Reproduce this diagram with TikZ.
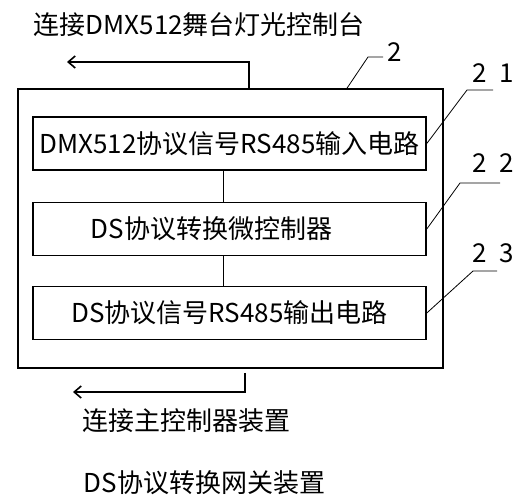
\documentclass[tikz,border=0pt]{standalone}
\usepackage{fontspec}
\setmainfont{Noto Sans CJK SC}
\usetikzlibrary{arrows.meta}

\begin{document}
\begin{tikzpicture}[x=1pt,y=-1pt,line width=1.6pt,
>={Straight Barb[length=7pt,width=12pt]},
gatebox/.style={draw,rectangle,inner sep=0pt,minimum width=425pt,minimum height=279pt},
blockbox/.style={draw,rectangle,inner sep=0pt,minimum width=393pt,minimum height=53pt},
leader/.style={line width=0.8pt},
lbl/.style={inner sep=0pt,font=\fontsize{26}{28}\selectfont}]

\useasboundingbox (0,0) rectangle (527,500);

\draw (230.5,228.5) node[gatebox] (G) {};
\draw (229.5,143.5) node[blockbox,lbl] (B1) {DMX512协议信号RS485输入电路};
\draw (229.5,229) node[blockbox,lbl] (B2) {DS协议转换微控制器\hspace*{36pt}};
\draw (229.5,313) node[blockbox,lbl] (B3) {DS协议信号RS485输出电路};

\draw ([xshift=-6pt]B1.south) -- ([xshift=-6pt]B2.north);
\draw ([xshift=-6pt]B2.south) -- ([xshift=-6pt]B3.north);

% external connections
\coordinate (UP) at (67,62);
\coordinate (DN) at (73,392);
\draw[->] ([xshift=18.5pt]G.north) |- (UP);
\draw[->] ([xshift=14.5pt,yshift=-4pt]G.south) |- (DN);
\node[lbl,anchor=west] (TopTxt) at (33,25) {连接DMX512舞台灯光控制台};
\node[lbl,anchor=west] (BotTxt) at (82,421) {连接主控制器装置};
\node[lbl,anchor=west] (Title) at (83,483) {DS协议转换网关装置};

% reference numerals
\node[lbl] (L2) at (395,52) {2};
\node[lbl] (L21) at (493,73) {2\enspace1};
\node[lbl] (L22) at (493,163) {2\enspace2};
\node[lbl] (L23) at (493,253) {2\enspace3};
\coordinate (K2) at (368,57);
\coordinate (K21) at (467,90);
\coordinate (K22) at (460,183);
\coordinate (K23) at (473,271);
\draw[leader] ([xshift=116.5pt]G.north) -- (K2) -- ++(15,0);
\draw[leader] (B1.east) -- (K21) -- ++(26,0);
\draw[leader] (B2.east) -- (K22) -- ++(40,0);
\draw[leader] (B3.east) -- (K23) -- ++(24,0);

\end{tikzpicture}
\end{document}
